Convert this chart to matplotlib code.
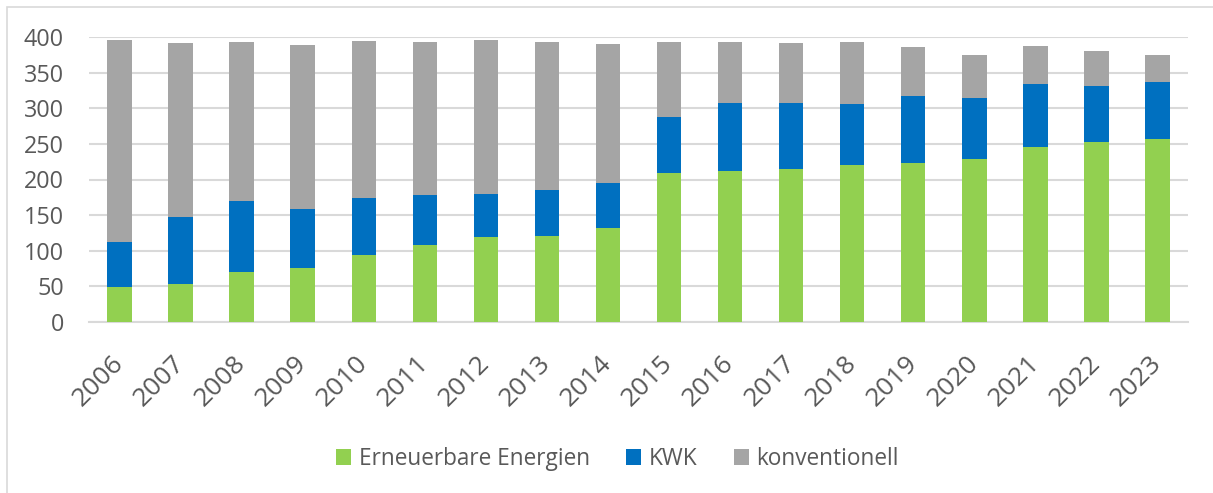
import numpy as np
import matplotlib.pyplot as plt
import matplotlib.transforms as mtransforms
from matplotlib.patches import Rectangle

years = [str(y) for y in range(2006, 2024)]
# values (top of each stacked segment)
ee = [49.6, 53.3, 69.7, 76.3, 94.5, 108.1, 119.3, 120.7, 131.5, 209.6,
      211.5, 214.3, 220.4, 223.2, 229.2, 246.1, 253.1, 257.3]
ee_kwk = [112.3, 147.8, 170.3, 158.1, 174.5, 178.2, 179.2, 184.8, 194.6, 288.2,
          306.9, 306.9, 306.4, 317.2, 313.9, 333.6, 331.2, 337.3]
total = [396.3, 392.0, 393.0, 388.3, 394.9, 392.5, 395.3, 393.5, 390.6, 393.0,
         393.5, 391.6, 392.5, 386.4, 374.3, 387.4, 380.4, 374.3]

ee = np.array(ee)
kwk = np.array(ee_kwk) - ee
konv = np.array(total) - np.array(ee_kwk)

plt.rcParams['font.family'] = ['Open Sans', 'DejaVu Sans']

fig = plt.figure(figsize=(12.13, 4.93), dpi=100)
ax = fig.add_axes([89/1213, 1 - 322/493, (1188 - 89)/1213, (322 - 37)/493])

x = np.arange(len(years))
w = 0.4
ax.bar(x, ee, w, color='#92D050', label='Erneuerbare Energien', zorder=3)
ax.bar(x, kwk, w, bottom=ee, color='#0070C0', label='KWK', zorder=3)
ax.bar(x, konv, w, bottom=ee + kwk, color='#A5A5A5', label='konventionell', zorder=3)

ax.set_xlim(-0.5, len(years) - 0.5)
ax.set_ylim(0, 400)
ax.set_yticks(range(0, 401, 50))
ax.yaxis.grid(True, color='#D9D9D9', linewidth=1.5, zorder=0)
ax.set_axisbelow(True)
for s in ['top', 'right', 'left']:
    ax.spines[s].set_visible(False)
ax.spines['bottom'].set_color('#D9D9D9')
ax.spines['bottom'].set_linewidth(1.5)
ax.tick_params(axis='both', length=0, labelcolor='#595959')
ax.tick_params(axis='y', labelsize=16.8, pad=18)
ax.tick_params(axis='x', labelsize=19, pad=21)
ax.set_xticks(x)
ax.set_xticklabels(years, rotation=45, ha='right', rotation_mode='anchor')
shift = mtransforms.ScaledTranslation(-8.5/100, 0, fig.dpi_scale_trans)
for lbl in ax.get_xticklabels():
    lbl.set_transform(lbl.get_transform() + shift)

fig.legend(loc='center', bbox_to_anchor=(0.509, 1 - 459/493), ncol=3, frameon=False,
           fontsize=16.3, labelcolor='#595959', handlelength=0.66, handleheight=0.66,
           columnspacing=1.6, handletextpad=0.35)

# chart-area frame (runs off the right and bottom edge like the source)
fig.patches.append(Rectangle((6.5/1213, -0.05), 1.2, 1 - 7/493 + 0.05,
                             transform=fig.transFigure, fill=False,
                             edgecolor='#D9D9D9', linewidth=1.2))

fig.savefig('out.png', dpi=100)
